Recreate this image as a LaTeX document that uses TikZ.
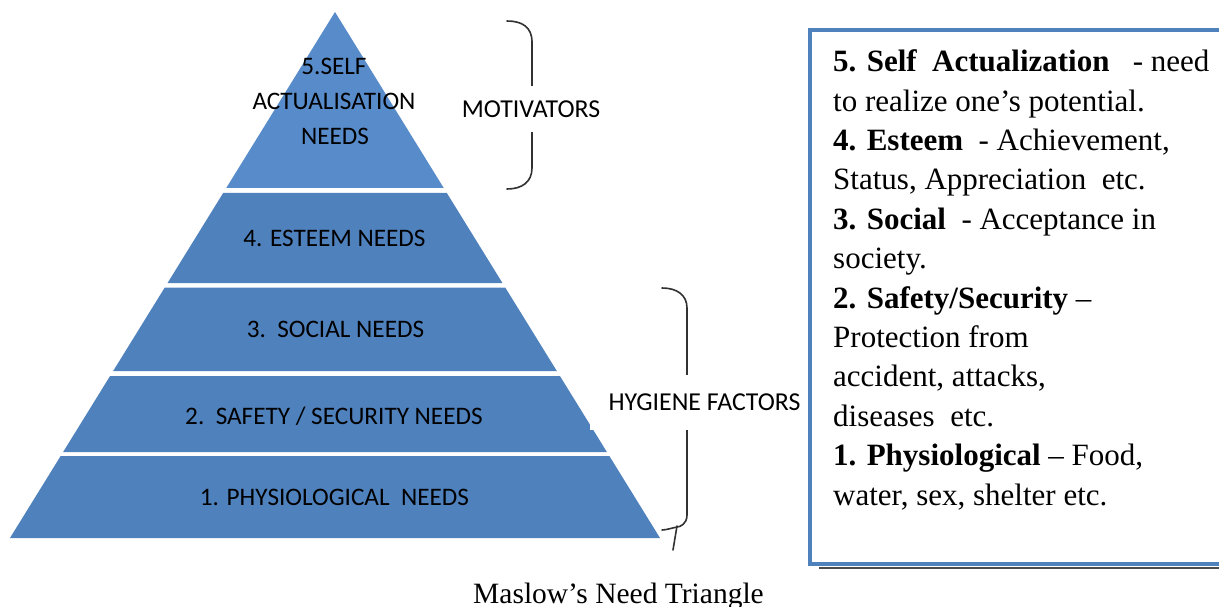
\documentclass[tikz,border=0pt]{standalone}
\usepackage{fontspec}
\setmainfont{Liberation Serif}
\newfontfamily\pyrfont{Carlito}
\definecolor{layerblue}{RGB}{79,129,189}
\definecolor{topblue}{RGB}{88,139,202}
\definecolor{bracegray}{RGB}{50,50,50}
\definecolor{boxblue}{RGB}{79,129,189}
\tikzset{
  pyr/.style={font=\pyrfont\fontsize{25.2}{29}\selectfont, inner sep=0pt, text=black},
  bracelabel/.style={font=\pyrfont\fontsize{25.8}{29}\selectfont, fill=white, inner sep=0pt, text=black},
  bracepath/.style={draw=bracegray, line width=1.6pt, line cap=round},
  boxline/.style={font=\fontsize{31}{39}\selectfont, inner sep=0pt, anchor=base west, text=black},
  layer/.style={fill=layerblue},
}
\begin{document}
\begin{tikzpicture}[x=1pt,y=-1pt]
\useasboundingbox (0,0) rectangle (1219,607);
% pyramid layers
\fill[topblue] (335,12) -- (443.75,188) -- (226.25,188) -- cycle;
\fill[layer] (223.16,193) -- (446.84,193) -- (502.45,283) -- (167.55,283) -- cycle;
\fill[layer] (164.77,287.5) -- (505.23,287.5) -- (556.83,371) -- (113.17,371) -- cycle;
\fill[layer] (110.08,376) -- (559.92,376) -- (606.88,452) -- (63.12,452) -- cycle;
\fill[layer] (60.65,456) -- (609.35,456) -- (660.02,538) -- (9.98,538) -- cycle;
% layer labels
\node[pyr, anchor=base] (l5a) at (334,74.5) {5.SELF};
\node[pyr, anchor=base] (l5b) at (334,109.5) {ACTUALISATION};
\node[pyr, anchor=base] (l5c) at (335,145) {NEEDS};
\node[pyr, anchor=base] (l4) at (334.5,247) {4. ESTEEM NEEDS};
\node[pyr, anchor=base] (l3) at (335.5,337) {3.\ \ SOCIAL NEEDS};
\node[pyr, anchor=base] (l2) at (334,424) {2.\ \ SAFETY / SECURITY NEEDS};
\node[pyr, anchor=base] (l1) at (334.5,505) {1. PHYSIOLOGICAL\ \ NEEDS};
% braces
\draw[bracepath] (507,21) .. controls (522,21) and (532,27) .. (532,42) -- (532,168) .. controls (532,182) and (522,189) .. (507,189);
\draw[bracepath] (662,288) .. controls (677,288) and (687,295) .. (687,308) -- (687,515) .. controls (687,524) and (680,527) .. (677,527) .. controls (672,528) and (666,530) .. (662,530);
\draw[bracepath] (677,526) -- (673,550);
% brace labels (white background cuts the braces)
\node[bracelabel, minimum width=150pt, minimum height=46pt] (mot) at (531,109.5) {MOTIVATORS};
\node[bracelabel, minimum width=229pt, minimum height=55pt] (hyg) at (704.5,402) {HYGIENE FACTORS};
% right text box
\draw[line width=2pt, gray!60!black] (819,568) -- (1240,568);
\draw[line width=4.5pt, boxblue] (810,30) rectangle (1240,564);
\node[boxline] (t1) at (833,71.7) {\textbf{5. Self\ \ Actualization}\ \ \ - need};
\node[boxline] (t2) at (833,111.1) {to realize one’s potential.};
\node[boxline] (t3) at (833,150.5) {\textbf{4. Esteem}\ \ - Achievement,};
\node[boxline] (t4) at (833,189.9) {Status, Appreciation\ \ etc.};
\node[boxline] (t5) at (833,229.3) {\textbf{3. Social}\ \ - Acceptance in};
\node[boxline] (t6) at (833,268.7) {society.};
\node[boxline] (t7) at (833,308.1) {\textbf{2. Safety/Security} --};
\node[boxline] (t8) at (833,347.5) {Protection from};
\node[boxline] (t9) at (833,386.9) {accident, attacks,};
\node[boxline] (t10) at (833,426.3) {diseases\ \ etc.};
\node[boxline] (t11) at (833,465.7) {\textbf{1. Physiological} -- Food,};
\node[boxline] (t12) at (833,505.1) {water, sex, shelter etc.};
% caption
\node[font=\fontsize{29.5}{35}\selectfont, inner sep=0pt, anchor=base] (cap) at (618.5,603) {Maslow’s Need Triangle};
\end{tikzpicture}
\end{document}
